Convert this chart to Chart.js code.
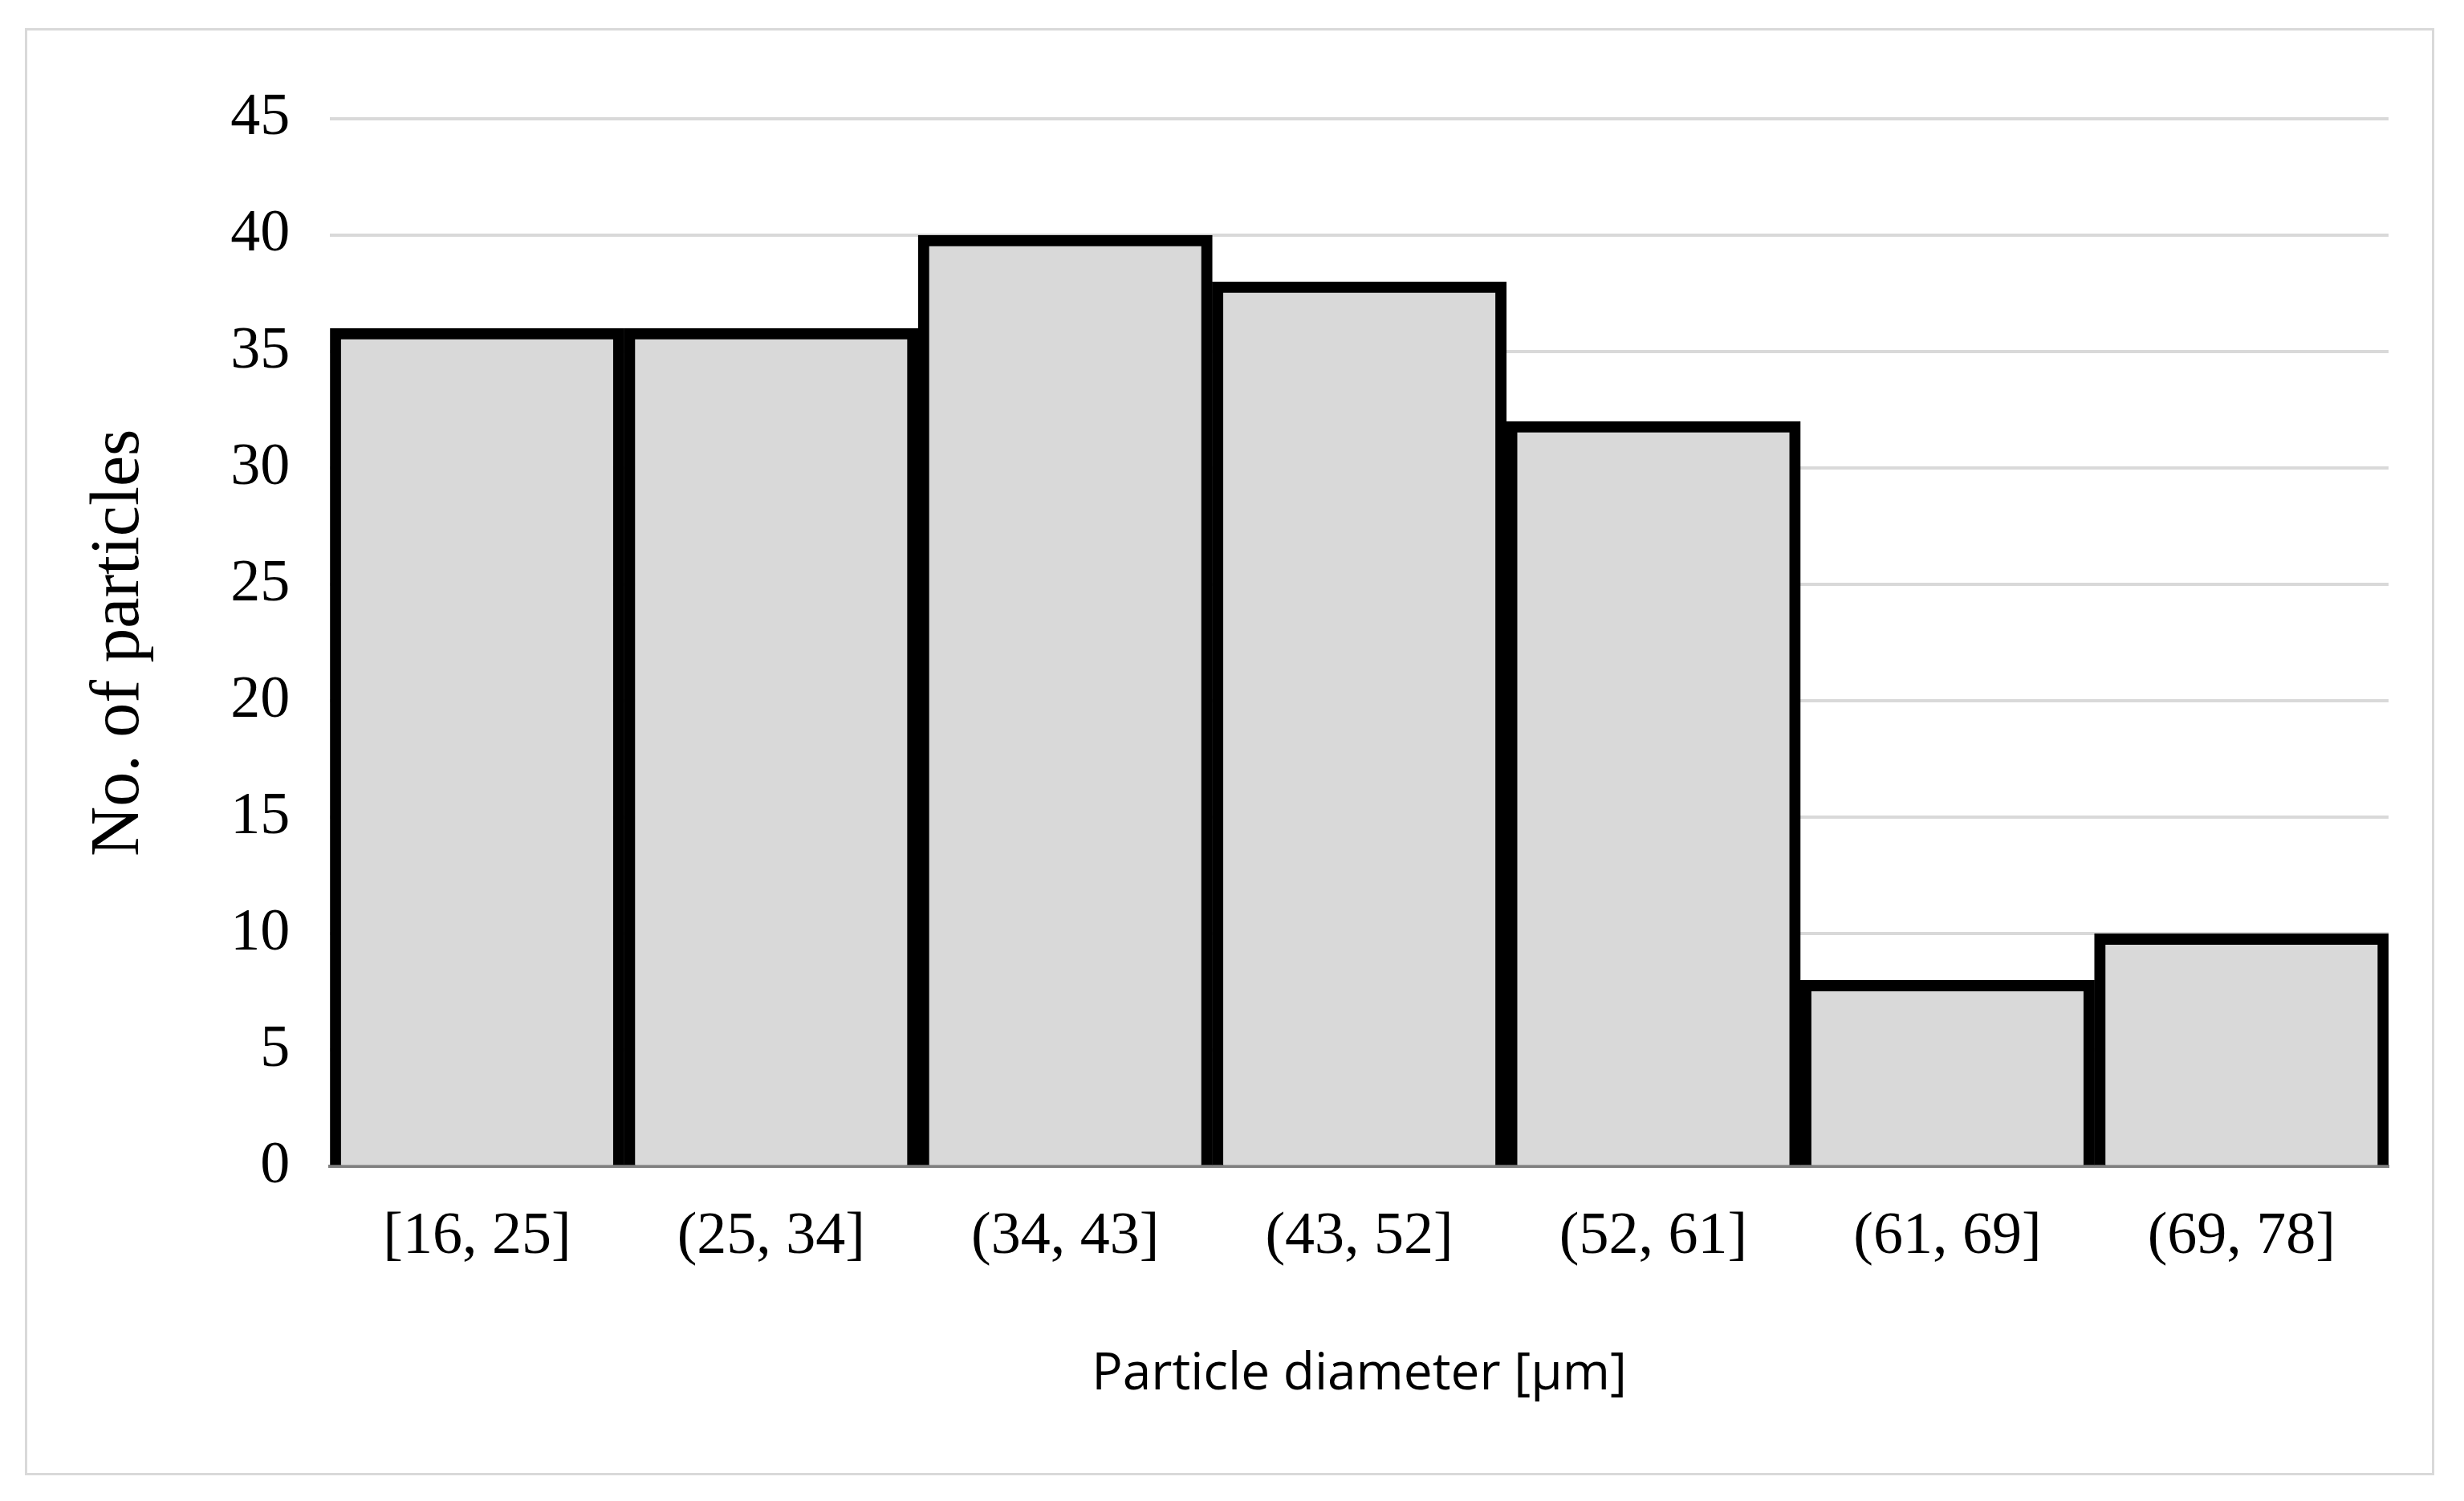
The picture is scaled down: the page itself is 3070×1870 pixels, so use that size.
<!DOCTYPE html>
<html>
<head>
<meta charset="utf-8">
<script src="https://cdn.jsdelivr.net/npm/chart.js@4/dist/chart.umd.min.js"></script>
<style>
  html, body { margin: 0; padding: 0; background: #fff; }
  #wrap {
    position: absolute; left: 31px; top: 35px;
    width: 3002px; height: 1803px;
    border: 3px solid #d9d9d9; box-sizing: border-box;
  }
</style>
</head>
<body>
<div id="wrap"><canvas id="chart"></canvas></div>
<script>
// Histogram data
var categories = ["[16, 25]", "(25, 34]", "(34, 43]", "(43, 52]", "(52, 61]", "(61, 69]", "(69, 78]"];
var counts = [36, 36, 40, 38, 32, 8, 10];
var yTicks = [0, 5, 10, 15, 20, 25, 30, 35, 40, 45];

var serif = "'Liberation Serif', 'DejaVu Serif', serif";

var ctx = document.getElementById("chart").getContext("2d");
var myChart = new Chart(ctx, {
    type: "bar",
    data: {
        labels: categories,
        datasets: [{
            label: "No. of particles",
            data: counts,
            backgroundColor: "#d9d9d9",
            borderColor: "#000000",
            borderWidth: 14,
            borderSkipped: "bottom",
            barPercentage: 1.0,
            categoryPercentage: 1.0
        }]
    },
    options: {
        responsive: true,
        maintainAspectRatio: false,
        animation: false,
        layout: { padding: { left: 60, right: 54, top: 110, bottom: 80 } },
        plugins: {
            legend: { display: false },
            tooltip: { enabled: false }
        },
        scales: {
            x: {
                grid: { display: false, drawTicks: false },
                border: { color: "#7f7f7f", width: 4 },
                ticks: { color: "#000", font: { family: serif, size: 74 }, padding: 44 },
                title: {
                    display: true,
                    text: "Particle diameter [µm]",
                    color: "#000",
                    font: { family: "'Open Sans', sans-serif", size: 64 },
                    padding: { top: 44 }
                }
            },
            y: {
                min: 0,
                max: 45,
                afterBuildTicks: function (axis) {
                    axis.ticks = yTicks.map(function (v) { return { value: v }; });
                },
                grid: { color: "#d9d9d9", lineWidth: 4, drawTicks: false },
                border: { display: false },
                ticks: { color: "#000", font: { family: serif, size: 74 }, padding: 50 },
                title: {
                    display: true,
                    text: "No. of particles",
                    color: "#000",
                    font: { family: serif, size: 86 },
                    padding: { bottom: 36 }
                }
            }
        }
    }
});
</script>
</body>
</html>
